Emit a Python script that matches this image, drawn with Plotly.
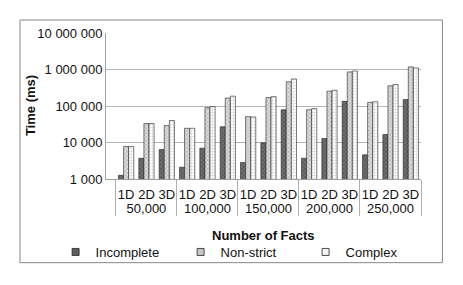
import plotly.graph_objects as go

groups = ["50,000", "100,000", "150,000", "200,000", "250,000"]
dims = ["1D", "2D", "3D"]

incomplete = [1260, 3700, 6400, 2100, 7000, 27000, 2850, 9800, 79000,
              3700, 12800, 134000, 4600, 16500, 151000]
non_strict = [7800, 33000, 29000, 24500, 90000, 165000, 51000, 170000, 460000,
              79000, 255000, 860000, 125000, 357000, 1180000]
complex_ = [7800, 33000, 40000, 24500, 96000, 186000, 50000, 180000, 550000,
            85000, 270000, 910000, 131000, 390000, 1100000]

y_tickvals = [1000, 10000, 100000, 1000000, 10000000]
y_ticktext = ["1 000", "10 000", "100 000", "1 000 000", "10 000 000"]

xg = [g for g in groups for _ in dims]
xd = [d for _ in groups for d in dims]
x = [xg, xd]

FONT = "Liberation Sans, Arial, sans-serif"

series = [
    ("Incomplete", incomplete, "#5e5e5e", dict(shape="x", fgcolor="#2e2e2e", bgcolor="#707070", size=3, solidity=0.4)),
    ("Non-strict", non_strict, "#c8c8c8", dict(shape="x", fgcolor="#8a8a8a", bgcolor="#dcdcdc", size=3, solidity=0.4)),
    ("Complex", complex_, "#f4f4f4", dict(shape="+", fgcolor="#a0a0a0", bgcolor="#ffffff", size=3, solidity=0.3)),
]

fig = go.Figure()
for name, vals, col, pat in series:
    fig.add_trace(go.Bar(
        name=name, x=x, y=vals, showlegend=False, legendgroup=name,
        marker=dict(color=col, line=dict(color="#222", width=0.6), pattern=pat),
    ))
for name, vals, col, pat in series:
    fig.add_trace(go.Scatter(
        name=name, x=[[groups[0]], [dims[0]]], y=[None], mode="markers",
        legendgroup=name, showlegend=True,
        marker=dict(symbol="square", size=7, color=col, line=dict(color="#222", width=0.8)),
    ))

# page body has an 8px margin: figure is offset by 8px right/down
fig.update_layout(
    width=455, height=277,
    margin=dict(l=98, r=42, t=25, b=106, autoexpand=False),
    paper_bgcolor="white", plot_bgcolor="white",
    font=dict(family=FONT, size=13, color="#111"),
    barmode="group", bargap=0.25, bargroupgap=0,
    showlegend=True,
    legend=dict(orientation="h", x=-0.160, xanchor="left", y=-0.50, yanchor="middle",
                entrywidth=80, entrywidthmode="pixels", itemwidth=30,
                font=dict(size=13), bgcolor="rgba(0,0,0,0)"),
    xaxis=dict(type="multicategory", showline=True, linecolor="#a0a0a0", linewidth=1,
               showgrid=False, ticks="", tickangle=0, showdividers=True, dividercolor="#b0b0b0",
               dividerwidth=1, tickfont=dict(size=13), automargin=False, ticklabelstandoff=3),
    yaxis=dict(type="log", range=[3, 7], tickvals=y_tickvals, ticktext=y_ticktext,
               showline=True, linecolor="#a0a0a0", linewidth=1,
               showgrid=True, gridcolor="#b4b4b4", gridwidth=1, ticks="",
               tickfont=dict(size=13), zeroline=False, automargin=False),
    annotations=[
        dict(text="<b>Number of Facts</b>", xref="paper", yref="paper",
             x=0.5, y=-0.384, xanchor="center", yanchor="middle", showarrow=False,
             font=dict(size=13)),
        dict(text="<b>Time (ms)</b>", xref="paper", yref="paper",
             x=-0.241, y=0.5, xanchor="center", yanchor="middle", textangle=-90,
             showarrow=False, font=dict(size=13)),
    ],
    shapes=[dict(type="rect", xref="paper", yref="paper",
                 x0=-0.273, x1=1.068, y0=-0.573, y1=1.089,
                 line=dict(color="#888", width=1), fillcolor="rgba(0,0,0,0)")],
)

fig.write_html("out.html")
